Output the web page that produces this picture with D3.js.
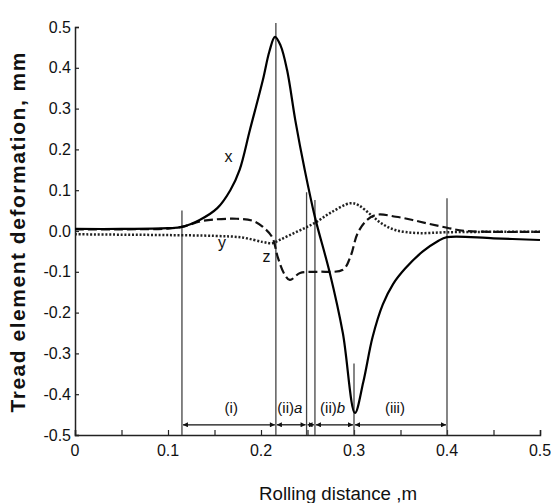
<!DOCTYPE html>
<html>
<head>
<meta charset="utf-8">
<script src="https://cdn.jsdelivr.net/npm/d3@7"></script>
<style>
  body { margin: 0; background: #fff; }
  svg { display: block; }
  text { font-family: "Liberation Sans", Arial, sans-serif; fill: #111; }
</style>
</head>
<body>
<script>
const width = 551;
const height = 503;

// x curve (solid)
const distX = [0, 0.05, 0.1, 0.115, 0.134, 0.153, 0.167, 0.177, 0.188, 0.202, 0.209, 0.215, 0.221, 0.228, 0.237, 0.247, 0.258, 0.274, 0.288, 0.301, 0.31, 0.32, 0.331, 0.342, 0.355, 0.374, 0.39, 0.4, 0.45, 0.5];
const defX = [0.005, 0.005, 0.007, 0.01, 0.027, 0.056, 0.1, 0.15, 0.247, 0.37, 0.44, 0.476, 0.455, 0.395, 0.27, 0.15, 0.034, -0.103, -0.25, -0.446, -0.37, -0.26, -0.18, -0.13, -0.092, -0.05, -0.025, -0.015, -0.018, -0.022];

// y curve (dotted)
const distY = [0, 0.05, 0.1, 0.15, 0.18, 0.202, 0.212, 0.22, 0.231, 0.245, 0.258, 0.275, 0.296, 0.305, 0.318, 0.33, 0.345, 0.368, 0.4, 0.45, 0.5];
const defY = [-0.008, -0.009, -0.01, -0.012, -0.016, -0.027, -0.03, -0.022, -0.01, 0.005, 0.02, 0.045, 0.068, 0.063, 0.04, 0.018, 0.002, -0.005, -0.003, -0.002, -0.002];

// z curve (dashed)
const distZ = [0, 0.05, 0.1, 0.115, 0.138, 0.174, 0.191, 0.202, 0.212, 0.218, 0.225, 0.231, 0.242, 0.26, 0.288, 0.296, 0.304, 0.314, 0.325, 0.345, 0.363, 0.38, 0.4, 0.42, 0.5];
const defZ = [0.004, 0.004, 0.006, 0.01, 0.025, 0.03, 0.025, 0.01, -0.015, -0.064, -0.105, -0.12, -0.103, -0.1, -0.095, -0.064, -0.005, 0.027, 0.04, 0.035, 0.027, 0.018, 0.008, 0.0, -0.002];

// vertical guide lines and the phase arrows under the curves
const guideX = [0.115, 0.216, 0.249, 0.258, 0.3, 0.4];
const guideTop = [0.05, 0.51, 0.095, 0.076, -0.325, 0.08];
const phaseBounds = [0.115, 0.216, 0.249, 0.258, 0.3, 0.4];
const phaseNames = ["(i)", "(ii)a", "(ii)b", "(iii)"];
const phaseCenters = [0.168, 0.231, 0.277, 0.344];

const xTicks = [0, 0.1, 0.2, 0.3, 0.4, 0.5];
const xMinorTicks = [0, 0.05, 0.1, 0.15, 0.2, 0.25, 0.3, 0.35, 0.4, 0.45, 0.5];
const yTicks = [0.5, 0.4, 0.3, 0.2, 0.1, 0, -0.1, -0.2, -0.3, -0.4, -0.5];

const x = d3.scaleLinear().domain([0, 0.5]).range([75, 540]);
const y = d3.scaleLinear().domain([-0.5, 0.5]).range([435, 27]);

const svg = d3
  .select("body")
  .append("svg")
  .attr("width", width)
  .attr("height", height);

svg
  .append("defs")
  .append("marker")
  .attr("id", "head")
  .attr("viewBox", "0 0 10 10")
  .attr("refX", 10)
  .attr("refY", 5)
  .attr("markerWidth", 7)
  .attr("markerHeight", 5)
  .attr("markerUnits", "userSpaceOnUse")
  .attr("orient", "auto-start-reverse")
  .append("path")
  .attr("d", "M0,0L10,5L0,10Z")
  .attr("fill", "#111");

// axes
const xAxis = svg
  .append("g")
  .attr("transform", `translate(0,${y(-0.5)})`)
  .call(
    d3.axisBottom(x).tickValues(xMinorTicks).tickSize(-5).tickFormat("")
  );
xAxis.select(".domain").attr("stroke", "#222").attr("stroke-width", 1.5);
xAxis.selectAll(".tick line").attr("stroke", "#222").attr("stroke-width", 1.2);

svg
  .append("g")
  .selectAll("text")
  .data(xTicks)
  .join("text")
  .attr("x", (d) => x(d))
  .attr("y", 456)
  .attr("text-anchor", "middle")
  .attr("font-size", 16)
  .text((d) => (d === 0 ? "0" : d3.format(".1f")(d)));

const yAxis = svg
  .append("g")
  .attr("transform", `translate(${x(0)},0)`)
  .call(d3.axisLeft(y).tickValues(yTicks).tickSize(-4).tickPadding(4).tickFormat(d3.format(".1f")));
yAxis.select(".domain").attr("stroke", "#222").attr("stroke-width", 1.5);
yAxis.selectAll(".tick line").attr("stroke", "#222").attr("stroke-width", 1.2);
yAxis
  .selectAll(".tick text")
  .attr("font-size", 16)
  .attr("font-family", "Liberation Sans, Arial, sans-serif")
  .attr("fill", "#111")
  .text((d) => d3.format(".1f")(d).replace("−", "-"));

// guide lines
svg
  .append("g")
  .selectAll("line")
  .data(guideX)
  .join("line")
  .attr("x1", (d) => x(d))
  .attr("x2", (d) => x(d))
  .attr("y1", (d, i) => y(guideTop[i]))
  .attr("y2", y(-0.5))
  .attr("stroke", "#444")
  .attr("stroke-width", 1.3);

// phase arrows
const segs = d3.pairs(phaseBounds);
svg
  .append("g")
  .selectAll("line")
  .data(segs)
  .join("line")
  .attr("x1", (d) => x(d[0]) + 1)
  .attr("x2", (d) => x(d[1]) - 1)
  .attr("y1", y(-0.475))
  .attr("y2", y(-0.475))
  .attr("stroke", "#111")
  .attr("stroke-width", 1.3)
  .attr("marker-start", "url(#head)")
  .attr("marker-end", "url(#head)");

const phaseText = svg
  .append("g")
  .selectAll("text")
  .data(phaseNames)
  .join("text")
  .attr("x", (d, i) => x(phaseCenters[i]))
  .attr("y", y(-0.445))
  .attr("text-anchor", "middle")
  .attr("font-size", 15);
phaseText.append("tspan").text((d) => d.match(/^\(.*\)/)[0]);
phaseText
  .append("tspan")
  .attr("font-style", "italic")
  .text((d) => d.replace(/^\(.*\)/, ""));

// curves
const line = d3
  .line()
  .x((d) => x(d[0]))
  .y((d) => y(d[1]))
  .curve(d3.curveCatmullRom.alpha(0.5));

svg
  .append("path")
  .datum(d3.zip(distY, defY))
  .attr("d", line)
  .attr("fill", "none")
  .attr("stroke", "#222")
  .attr("stroke-width", 2.5)
  .attr("stroke-dasharray", "2,1.8");

svg
  .append("path")
  .datum(d3.zip(distZ, defZ))
  .attr("d", line)
  .attr("fill", "none")
  .attr("stroke", "#111")
  .attr("stroke-width", 2.2)
  .attr("stroke-dasharray", "9,4");

svg
  .append("path")
  .datum(d3.zip(distX, defX))
  .attr("d", line)
  .attr("fill", "none")
  .attr("stroke", "#000")
  .attr("stroke-width", 2.2);

// curve labels
const curveLabels = [
  { t: "x", d: 0.165, v: 0.17 },
  { t: "y", d: 0.158, v: -0.042 },
  { t: "z", d: 0.206, v: -0.075 },
];
svg
  .append("g")
  .selectAll("text")
  .data(curveLabels)
  .join("text")
  .attr("x", (d) => x(d.d))
  .attr("y", (d) => y(d.v))
  .attr("text-anchor", "middle")
  .attr("font-size", 16)
  .text((d) => d.t);

// axis titles
svg
  .append("text")
  .attr("transform", `translate(25,${(52 + 413) / 2}) rotate(-90)`)
  .attr("text-anchor", "middle")
  .attr("font-size", 21)
  .attr("font-weight", "bold")
  .attr("textLength", 360)
  .attr("lengthAdjust", "spacing")
  .text("Tread element deformation, mm");

svg
  .append("text")
  .attr("x", 338)
  .attr("y", 500)
  .attr("text-anchor", "middle")
  .attr("font-family", "Open Sans, sans-serif")
  .attr("font-size", 18)
  .attr("textLength", 158)
  .attr("lengthAdjust", "spacingAndGlyphs")
  .text("Rolling distance ,m");
</script>
</body>
</html>
